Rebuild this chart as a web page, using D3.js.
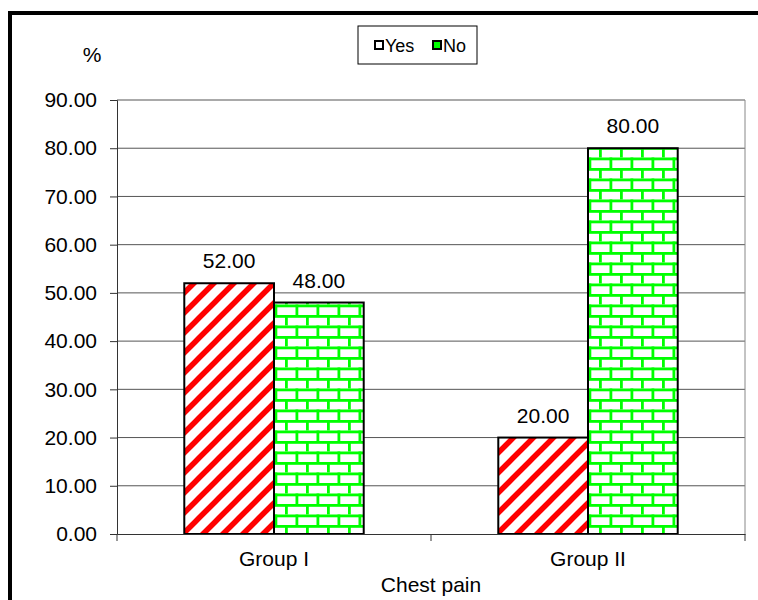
<!DOCTYPE html>
<html>
<head>
<meta charset="utf-8">
<script src="https://cdn.jsdelivr.net/npm/d3@7"></script>
<style>
  html, body { margin: 0; padding: 0; background: #fff; }
  svg { display: block; font-family: "Liberation Sans", Arial, sans-serif; }
</style>
</head>
<body>
<svg id="chart" width="758" height="600"></svg>
<script>
// Chest pain by group, percentages
const categories = ["Group I", "Group II"];
const seriesNames = ["Yes", "No"];
const yesValues = [52.00, 20.00];
const noValues = [48.00, 80.00];
const yTickValues = [0, 10, 20, 30, 40, 50, 60, 70, 80, 90];
const xTitle = "Chest pain";
const yTitle = "%";

const svg = d3.select("#chart");
const plot = { left: 117, right: 745, top: 100, bottom: 534 };
const fontSize = 21;

// Fill patterns: red diagonal stripes and green brick
const defs = svg.append("defs");
const stripes = defs.append("pattern")
  .attr("id", "stripes").attr("patternUnits", "userSpaceOnUse")
  .attr("width", 20).attr("height", 20);
stripes.append("rect").attr("width", 20).attr("height", 20).attr("fill", "#fff");
stripes.append("path")
  .attr("d", "M-5,5 L5,-5 M0,20 L20,0 M15,25 L25,15")
  .attr("stroke", "#ff0000").attr("stroke-width", 5.5).attr("fill", "none");

const brick = defs.append("pattern")
  .attr("id", "brick").attr("patternUnits", "userSpaceOnUse")
  .attr("width", 21).attr("height", 21);
brick.append("rect").attr("width", 21).attr("height", 21).attr("fill", "#fff");
const bg = brick.append("g").attr("fill", "#00ff00");
bg.append("rect").attr("x", 0).attr("y", 0).attr("width", 21).attr("height", 2.8);
bg.append("rect").attr("x", 0).attr("y", 10.5).attr("width", 21).attr("height", 2.8);
bg.append("rect").attr("x", 0).attr("y", 0).attr("width", 2.8).attr("height", 10.5);
bg.append("rect").attr("x", 10.5).attr("y", 10.5).attr("width", 2.8).attr("height", 10.5);

const fills = { Yes: "url(#stripes)", No: "url(#brick)" };

// Outer frame
svg.append("rect")
  .attr("x", 10).attr("y", 13).attr("width", 800).attr("height", 700)
  .attr("fill", "none").attr("stroke", "#000").attr("stroke-width", 4);

// Scales
const x0 = d3.scaleBand().domain(categories).range([plot.left, plot.right]).paddingInner(0).paddingOuter(0);
const x1 = d3.scaleBand().domain(seriesNames).range([0, x0.bandwidth()]).paddingInner(0).paddingOuter(0.75);
const y = d3.scaleLinear().domain([0, 90]).range([plot.bottom, plot.top]);

// Gridlines
svg.append("g")
  .selectAll("line").data(yTickValues.filter(v => v > 0)).join("line")
  .attr("x1", plot.left).attr("x2", plot.right)
  .attr("y1", d => y(d)).attr("y2", d => y(d))
  .attr("stroke", "#555").attr("stroke-width", 1);

// Plot area right border
svg.append("line")
  .attr("x1", plot.right).attr("x2", plot.right)
  .attr("y1", plot.top).attr("y2", plot.bottom)
  .attr("stroke", "#888").attr("stroke-width", 1);

// Bars
const rows = categories.map((c, i) => ({ cat: c, Yes: yesValues[i], No: noValues[i] }));
const groups = svg.append("g").selectAll("g").data(rows).join("g")
  .attr("transform", d => `translate(${x0(d.cat)},0)`);
groups.selectAll("rect")
  .data(d => seriesNames.map(s => ({ s, v: d[s] })))
  .join("rect")
  .attr("x", d => x1(d.s)).attr("width", x1.bandwidth())
  .attr("y", d => y(d.v)).attr("height", d => y(0) - y(d.v))
  .attr("fill", d => fills[d.s])
  .attr("stroke", "#000").attr("stroke-width", 2);
groups.selectAll("text")
  .data(d => seriesNames.map(s => ({ s, v: d[s] })))
  .join("text")
  .attr("x", d => x1(d.s) + x1.bandwidth() / 2)
  .attr("y", d => y(d.v) - 15)
  .attr("text-anchor", "middle")
  .attr("font-size", fontSize).attr("fill", "#000")
  .text(d => d.v.toFixed(2));

// Y axis
const yAxis = svg.append("g")
  .attr("transform", `translate(${plot.left},0)`)
  .call(d3.axisLeft(y).tickValues(yTickValues).tickSize(7).tickPadding(13).tickFormat(d => d.toFixed(2)));
yAxis.select(".domain").attr("stroke", "#333").attr("stroke-width", 1);
yAxis.selectAll(".tick line").attr("stroke", "#333");
yAxis.selectAll("text").attr("font-size", fontSize).attr("font-family", "Liberation Sans, Arial, sans-serif").attr("fill", "#000");

// X axis
const xAxis = svg.append("g")
  .attr("transform", `translate(0,${plot.bottom})`)
  .call(d3.axisBottom(x0).tickSize(0).tickPadding(17));
xAxis.select(".domain").attr("stroke", "#333").attr("stroke-width", 1);
xAxis.selectAll("text").attr("font-size", fontSize).attr("font-family", "Liberation Sans, Arial, sans-serif").attr("fill", "#000");
// Category separators below the axis
const sepPositions = categories.map(c => x0(c)).concat([plot.right]);
svg.append("g").selectAll("line").data(sepPositions).join("line")
  .attr("x1", d => d).attr("x2", d => d)
  .attr("y1", plot.bottom).attr("y2", plot.bottom + 7)
  .attr("stroke", "#333");

// Axis titles
svg.append("text")
  .attr("x", 92).attr("y", 62).attr("text-anchor", "middle")
  .attr("font-size", fontSize).text(yTitle);
svg.append("text")
  .attr("x", (plot.left + plot.right) / 2).attr("y", 592).attr("text-anchor", "middle")
  .attr("font-size", fontSize).text(xTitle);

// Legend
const legend = svg.append("g");
legend.append("rect")
  .attr("x", 358).attr("y", 26).attr("width", 119).attr("height", 38)
  .attr("fill", "#fff").attr("stroke", "#000").attr("stroke-width", 1);
const legendItems = [
  { name: seriesNames[0], x: 374, inner: "#fff" },
  { name: seriesNames[1], x: 432, inner: "#00ff00" }
];
legendItems.forEach(it => {
  legend.append("rect")
    .attr("x", it.x + 1).attr("y", 41).attr("width", 8).attr("height", 8)
    .attr("fill", it.inner).attr("stroke", "#000").attr("stroke-width", 2);
  legend.append("text")
    .attr("x", it.x + 11).attr("y", 52)
    .attr("font-size", 18).text(it.name);
});
</script>
</body>
</html>
